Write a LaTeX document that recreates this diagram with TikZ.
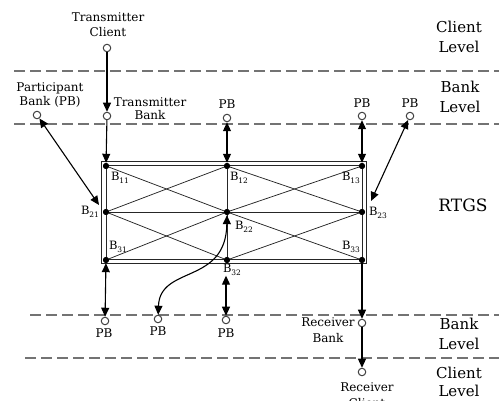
\documentclass[tikz,border=0pt]{standalone}
\usepackage{fontspec}
\setmainfont{DejaVu Serif}
\usetikzlibrary{arrows.meta}
% subscripted bank label B_{ij}
\newcommand\bsub[1]{B\raisebox{-2.5pt}{\fontsize{7.5}{8}\selectfont #1}}
\begin{document}
\begin{tikzpicture}[x=1pt,y=-1pt,
  hub/.style={circle, draw=black!75, line width=1pt, fill=white, inner sep=0pt, minimum size=7.5pt},
  bnode/.style={circle, fill=black, inner sep=0pt, minimum size=6pt},
  lvl/.style={draw=black!55, line width=1.6pt, dash pattern=on 11pt off 5pt},
  frame/.style={draw=black!85, line width=1pt},
  mesh/.style={draw=black!85, line width=0.75pt},
  conn/.style={draw=black, line width=1.1pt, -{Triangle[length=9pt,width=8pt]}},
  bconn/.style={draw=black, line width=1.1pt, {Triangle[length=9pt,width=8pt]}-{Triangle[length=9pt,width=8pt]}},
  txt/.style={font=\fontsize{12}{14}\selectfont, align=center, inner sep=0pt},
  side/.style={font=\fontsize{15}{20}\selectfont, align=center, inner sep=0pt},
  blab/.style={font=\fontsize{11.5}{12}\selectfont, inner sep=0pt},
]
\useasboundingbox (0,0) rectangle (499,401);

% level separators
\draw[lvl] (14,71) -- (499,71);
\draw[lvl] (14,124) -- (499,124);
\draw[lvl] (30,315) -- (499,315);
\draw[lvl] (25,358) -- (499,358);

% RTGS grid nodes
\node[bnode] (b11) at (106,166) {};
\node[bnode] (b12) at (227,166) {};
\node[bnode] (b13) at (362,166) {};
\node[bnode] (b21) at (106,212) {};
\node[bnode] (b22) at (227,212) {};
\node[bnode] (b23) at (362,212) {};
\node[bnode] (b31) at (106,260) {};
\node[bnode] (b32) at (227,260) {};
\node[bnode] (b33) at (362,260) {};

% double frame and mesh
\draw[frame] ([shift={(-4.5pt,4pt)}]b11.center) rectangle ([shift={(4.5pt,-4pt)}]b33.center);
\draw[frame] (b11.center) rectangle (b33.center);
\draw[mesh] (b21.center) -- (b23.center);
\draw[mesh] (b12.center) -- (b32.center);
\draw[mesh] (b11.center) -- (b22.center) -- (b13.center);
\draw[mesh] (b21.center) -- (b12.center) -- (b23.center);
\draw[mesh] (b21.center) -- (b32.center) -- (b23.center);
\draw[mesh] (b31.center) -- (b22.center) -- (b33.center);
\foreach \n in {b11,b12,b13,b21,b22,b23,b31,b32,b33} \node[bnode] at (\n) {};

% participants
\node[hub] (tc) at (107,48) {};
\node[hub] (tb) at (107,116) {};
\node[hub] (pbp) at (37,115) {};
\node[hub] (pb2) at (227,118) {};
\node[hub] (pb3) at (362,116) {};
\node[hub] (pb4) at (410,116) {};
\node[hub] (pb5) at (105,321) {};
\node[hub] (pb6) at (158,319) {};
\node[hub] (pb7) at (226,320) {};
\node[hub] (rb) at (362,323) {};
\node[hub] (rc) at (362,372) {};

\coordinate (b21in) at (99,205);
\coordinate (b23in) at (371,201);

% labels
\node[txt, font=\fontsize{12}{15}\selectfont] (ltc) at (108,24.5) {Transmitter\\Client};
\node[txt, font=\fontsize{12}{13}\selectfont] (ltb) at (150,108.5) {Transmitter\\Bank};
\node[txt] (lpbp) at (50,95.5) {Participant\\Bank (PB)};
\node[txt] (lpb2) at (227,104) {PB};
\node[txt] (lpb3) at (362,103) {PB};
\node[txt] (lpb4) at (410,103) {PB};
\node[txt] (lpb5) at (104,333) {PB};
\node[txt] (lpb6) at (158,331) {PB};
\node[txt] (lpb7) at (226,333) {PB};
\node[txt, font=\fontsize{12}{16}\selectfont] (lrb) at (328,330) {Receiver\\Bank};
\node[txt, font=\fontsize{12}{16}\selectfont] (lrc) at (367,395) {Receiver\\Client};

\node[blab] (l11) at (120,178) {\bsub{11}};
\node[blab] (l12) at (239,178) {\bsub{12}};
\node[blab] (l13) at (351,178) {\bsub{13}};
\node[blab] (l21) at (90,212) {\bsub{21}};
\node[blab] (l22) at (244,227) {\bsub{22}};
\node[blab] (l23) at (378,213) {\bsub{23}};
\node[blab] (l31) at (118,247) {\bsub{31}};
\node[blab] (l32) at (232,270) {\bsub{32}};
\node[blab] (l33) at (351,247) {\bsub{33}};

\node[side] (lcl1) at (459,37) {Client\\Level};
\node[side] (lbl1) at (460,96.5) {Bank\\Level};
\node[side, font=\fontsize{17}{20}\selectfont] (lrtgs) at (463,205) {RTGS};
\node[side] (lbl2) at (459,334) {Bank\\Level};
\node[side, font=\fontsize{15}{18}\selectfont] (lcl2) at (459,382) {Client\\Level};

% message flows
\draw[conn] (tc) -- (tb);
\draw[conn] (tb) -- (b11);
\draw[conn] (b33) -- (rb);
\draw[conn] (rb) -- (rc);
\draw[bconn] (pbp) -- (b21in);
\draw[bconn] (pb4) -- (b23in);
\draw[bconn] (pb2) -- (b12);
\draw[bconn] (pb3) -- (b13);
\draw[bconn] (pb5) -- (b31);
\draw[bconn] (pb7) -- (pb7 |- l32.south);
\draw[bconn] (b22) .. controls (226,285) and (160,265) .. (pb6);
\end{tikzpicture}
\end{document}
